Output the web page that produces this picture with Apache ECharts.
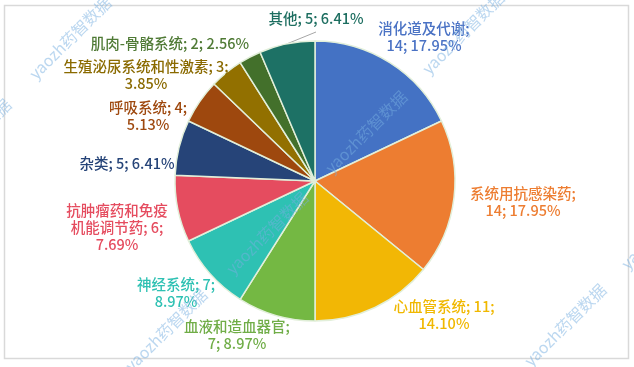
<!DOCTYPE html>
<html><head><meta charset="utf-8">
<script src="https://cdn.jsdelivr.net/npm/echarts@6/dist/echarts.min.js"></script>
<style>html,body{margin:0;padding:0;background:#fff}#c{width:634px;height:367px}</style>
</head><body><div id="c"></div>
<script>
// ---- data ----
const categories = ['消化道及代谢','系统用抗感染药','心血管系统','血液和造血器官','神经系统','抗肿瘤药和免疫机能调节药','杂类','呼吸系统','生殖泌尿系统和性激素','肌肉-骨骼系统','其他'];
const values = [14, 14, 11, 7, 7, 6, 5, 4, 3, 2, 5];

// ---- style ----
const colors = ['#4472C4','#ED7D31','#F2B705','#74B843','#2EC1B3','#E54C5F','#264478','#9E480E','#927000','#43702B','#1D7165'];
const labelColors = ['#4A72C4','#ED7D31','#F0B800','#70AD47','#2EC1B3','#E54C5F','#264478','#9E480E','#8A6A00','#4F7A35','#1D6E60'];
// how each label wraps: 'name' = break after name, 'value' = break after value, 'none'
const wrapMode = ['name','name','value','name','value','value','none','value','value','none','none'];
const nameBreakAt = [0,0,0,0,0,7,0,0,0,0,0];
// label anchor (centre) positions, chosen like the original layout
const labelAnchor = [[424,37],[523,202],[444,315],[237,335],[176,293],[117,227],[127,163],[148,116],[146,75],[170,43],[316,18]];

const total = values.reduce((a,b)=>a+b,0);
function labelText(i){
  let n = categories[i];
  if (nameBreakAt[i]) n = n.slice(0,nameBreakAt[i]) + '\n' + n.slice(nameBreakAt[i]);
  const v = values[i], p = (v/total*100).toFixed(2) + '%';
  if (wrapMode[i]==='name') return n + ';\n' + v + '; ' + p;
  if (wrapMode[i]==='value') return n + '; ' + v + ';\n' + p;
  return n + '; ' + v + '; ' + p;
}

const chart = echarts.init(document.getElementById('c'));
const font = '"Noto Sans CJK SC", "Noto Sans", sans-serif';

// watermark
const wmPos = [[463,33],[366,132],[267,233],[166,330],[70,38],[565,325],[662,228],[-30,140]];
const graphics = [{
  type:'rect', shape:{x:4.5,y:5.5,width:624,height:353}, style:{fill:null, stroke:'#D9D9D9', lineWidth:1.5}, z:-1
}];
wmPos.forEach(p=>graphics.push({
  type:'text', x:p[0], y:p[1], rotation:Math.PI/4, z:100,
  style:{text:'yaozh药智数据', fill:'rgba(120,175,225,0.5)', font:'16px '+font, align:'center', verticalAlign:'middle'}
}));

chart.setOption({
  animation:false,
  graphic: graphics,
  series:[{
    type:'pie',
    center:[315,181],
    radius:[0,140],
    startAngle:90,
    clockwise:true,
    avoidLabelOverlap:false,
    itemStyle:{borderColor:'#E2EFDA', borderWidth:1.5},
    label:{show:true, position:'outside', fontFamily:font, fontSize:14.5, fontWeight:500, lineHeight:17,
      formatter:(p)=>labelText(p.dataIndex)},
    labelLine:{show:false, lineStyle:{color:'#A6A6A6', width:1}, length:5, length2:5},
    labelLayout:(params)=>{
      const i = params.dataIndex, a = labelAnchor[i];
      const res = {x:a[0], y:a[1], align:'center', verticalAlign:'middle'};
      if (params.labelLinePoints && i===categories.length-1) {
        const s = params.labelLinePoints[0];
        res.labelLinePoints = [[s[0],s[1]],[a[0],a[1]+14]];
      }
      return res;
    },
    data: values.map((v,i)=>({
      name:categories[i], value:v,
      itemStyle:{color:colors[i]},
      label:{color:labelColors[i]},
      labelLine: i===categories.length-1 ? {show:true} : undefined
    }))
  }]
});
</script>
</body></html>
